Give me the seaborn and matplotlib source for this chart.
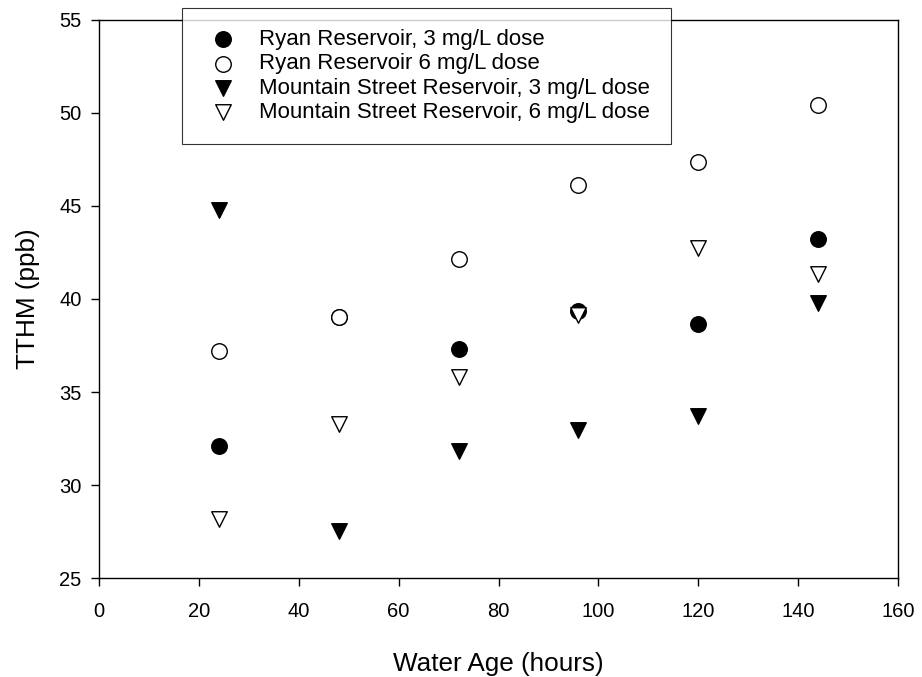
import matplotlib
matplotlib.use("Agg")
import matplotlib.pyplot as plt
import seaborn as sns
import pandas as pd

# Water age sampling points (hours)
water_age = [24, 48, 72, 96, 120, 144]

# TTHM concentrations (ppb)
ryan_3 = [32.08, 39.02, 37.33, 39.35, 38.65, 43.2]
ryan_6 = [37.19, 39.02, 42.17, 46.12, 47.38, 50.43]
mtn_3 = [44.77, 27.51, 31.84, 32.97, 33.73, 39.76]
mtn_6 = [28.17, 33.28, 35.79, 39.14, 42.75, 41.35]

labels = [
    "Ryan Reservoir, 3 mg/L dose",
    "Ryan Reservoir 6 mg/L dose",
    "Mountain Street Reservoir, 3 mg/L dose",
    "Mountain Street Reservoir, 6 mg/L dose",
]
series = [ryan_3, ryan_6, mtn_3, mtn_6]
markers = ["o", "o", "v", "v"]
faces = ["black", "white", "black", "white"]

sns.set_theme(style="ticks", rc={
    "text.color": "black",
    "axes.labelcolor": "black",
    "xtick.color": "black",
    "ytick.color": "black",
    "axes.edgecolor": "black",
})
plt.rcParams["font.family"] = ["Liberation Sans", "DejaVu Sans"]

frames = []
for lab, vals in zip(labels, series):
    frames.append(pd.DataFrame({"age": water_age, "tthm": vals, "series": lab}))
df = pd.concat(frames, ignore_index=True)

fig = plt.figure(figsize=(9.22, 6.77), dpi=100)
ax = fig.add_axes([0.1074, 0.1462, 0.8666, 0.8243])

for lab, mk, fc in zip(labels, markers, faces):
    sub = df[df["series"] == lab]
    sns.scatterplot(data=sub, x="age", y="tthm", ax=ax, marker=mk,
                    s=125, color=fc, edgecolor="black", linewidth=1.0,
                    label=lab, zorder=3)

ax.set_xlim(0, 160)
ax.set_ylim(25, 55)
ax.set_xticks(range(0, 161, 20))
ax.set_yticks(range(25, 56, 5))
ax.tick_params(axis="both", direction="out", length=5.5, width=1,
               labelsize=14.5, colors="black")
ax.tick_params(axis="x", pad=12)
ax.tick_params(axis="y", pad=7)
ax.tick_params(top=False, right=False)
for sp in ax.spines.values():
    sp.set_visible(True)
    sp.set_color("black")
    sp.set_linewidth(1.0)

ax.set_xlabel("Water Age (hours)", fontsize=18.8, labelpad=22)
ax.set_ylabel("TTHM (ppb)", fontsize=18.8, labelpad=14)

leg = ax.legend(loc="upper left", bbox_to_anchor=(0.1974, 0.9882),
                bbox_transform=fig.transFigure, borderaxespad=0,
                frameon=True, fancybox=False, fontsize=16,
                handletextpad=0.75, labelspacing=0.15, borderpad=0.95,
                handlelength=1.75, markerscale=1.0)
leg.get_frame().set_edgecolor("black")
leg.get_frame().set_linewidth(0.8)
leg.set_zorder(10)

fig.savefig("out.png", dpi=100)
